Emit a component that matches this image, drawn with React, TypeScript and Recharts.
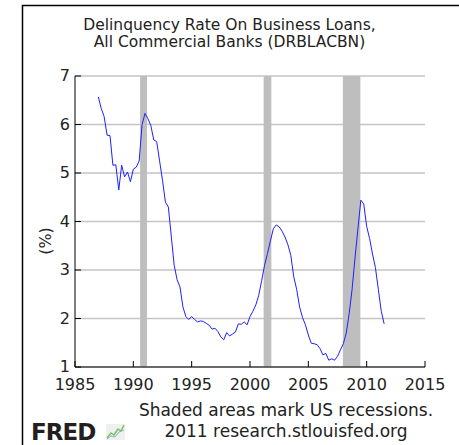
import React from "react";
import {
  LineChart,
  Line,
  XAxis,
  YAxis,
  CartesianGrid,
  ReferenceArea,
} from "recharts";

// quarterly delinquency rate (%), first quarter of 1987 onward
const START_YEAR = 1987;
const rates = [
  6.57, 6.33, 6.16, 5.78,
  5.77, 5.16, 5.17, 4.65,
  5.16, 4.92, 5.02, 4.82,
  5.08, 5.12, 5.25, 6.0,
  6.23, 6.12, 5.98, 5.68,
  5.65, 5.25, 4.85, 4.4,
  4.3, 3.7, 3.1, 2.8,
  2.65, 2.24, 2.04, 1.98,
  2.04, 1.98, 1.93, 1.95,
  1.94, 1.9, 1.86, 1.78,
  1.8, 1.73, 1.62, 1.56,
  1.71, 1.64, 1.68, 1.72,
  1.89, 1.88, 1.93, 1.87,
  2.04, 2.15, 2.28, 2.48,
  2.78, 3.1, 3.34, 3.6,
  3.85, 3.93, 3.89, 3.8,
  3.68, 3.52, 3.3, 2.86,
  2.6, 2.24, 2.02, 1.87,
  1.66, 1.49, 1.48, 1.46,
  1.38, 1.25, 1.28, 1.14,
  1.17, 1.14, 1.22, 1.35,
  1.48, 1.7, 2.1, 2.6,
  3.25, 3.85, 4.44, 4.36,
  3.9, 3.65, 3.33, 3.05,
  2.6, 2.15, 1.89,
];

const recessionStarts = [1990.58, 2001.17, 2007.96];
const recessionEnds = [1991.17, 2001.83, 2009.46];

const xTicks = [1985, 1990, 1995, 2000, 2005, 2010, 2015];
const yTicks = [1, 2, 3, 4, 5, 6, 7];

const data = rates.map((v, i) => ({ t: START_YEAR + i / 4, rate: v }));

const FONT = "'DejaVu Sans', Verdana, sans-serif";
const INK = "#222";

const YTick = (props: any) => {
  const { x, y, payload } = props;
  return (
    <g>
      <line x1={x} x2={x + 6} y1={y} y2={y} stroke="#000" />
      <text x={x - 5} y={y} dy="0.33em" textAnchor="end" fontSize={16} fill={INK} fontFamily={FONT}>
        {payload.value}
      </text>
    </g>
  );
};

const XTick = (props: any) => {
  const { x, y, payload } = props;
  return (
    <g>
      <line x1={x} x2={x} y1={y - 6} y2={y} stroke="#000" />
      <text x={x} y={y + 23} textAnchor="middle" fontSize={16} fill={INK} fontFamily={FONT}>
        {payload.value}
      </text>
    </g>
  );
};

export default function App() {
  return (
    <div style={{ position: "absolute", left: 0, top: 0, width: 459, height: 445, background: "#fff" }}>
      <LineChart
        width={459}
        height={445}
        data={data}
        margin={{ top: 76, right: 34, bottom: 48, left: 35 }}
      >
        <CartesianGrid vertical={false} stroke="#c4c4c4" strokeWidth={1.5} />
        {recessionStarts.map((s, i) => (
          <ReferenceArea
            key={s}
            x1={s}
            x2={recessionEnds[i]}
            fill="#bebebe"
            fillOpacity={1}
            stroke="none"
          />
        ))}
        <XAxis
          dataKey="t"
          type="number"
          domain={[1985, 2015]}
          ticks={xTicks}
          height={30}
          tickSize={0}
          tickMargin={0}
          tick={<XTick />}
          axisLine={{ stroke: "#000" }}
          tickLine={false}
        />
        <YAxis
          type="number"
          domain={[1, 7]}
          ticks={yTicks}
          width={40}
          tickSize={0}
          tickMargin={0}
          tick={<YTick />}
          axisLine={{ stroke: "#000" }}
          tickLine={false}
        />
        <Line
          dataKey="rate"
          type="linear"
          stroke="#1f1fff"
          strokeWidth={1}
          dot={false}
          isAnimationActive={false}
        />
      </LineChart>
      <svg
        width={459}
        height={445}
        style={{ position: "absolute", left: 0, top: 0, pointerEvents: "none" }}
      >
        <path d="M22.5,445 V5.5 H459" fill="none" stroke="#000" strokeWidth={1.5} />
        <text x={229.5} y={29.5} textAnchor="middle" fontSize={15.5} fill={INK} fontFamily={FONT}>
          Delinquency Rate On Business Loans,
        </text>
        <text x={229.5} y={46.5} textAnchor="middle" fontSize={15.5} fill={INK} fontFamily={FONT}>
          All Commercial Banks (DRBLACBN)
        </text>
        <text
          x={51}
          y={241}
          transform="rotate(-90 51 241)"
          textAnchor="middle"
          fontSize={16}
          fill={INK}
          fontFamily={FONT}
        >
          (%)
        </text>
        <text x={286} y={416} textAnchor="middle" fontSize={17} fill={INK} fontFamily={FONT}>
          Shaded areas mark US recessions.
        </text>
        <text x={286} y={436.5} textAnchor="middle" fontSize={17} fill={INK} fontFamily={FONT}>
          2011 research.stlouisfed.org
        </text>
        <text x={31} y={440} fontSize={23} fontWeight="bold" fill="#231f20" fontFamily={FONT} letterSpacing={-1}>
          FRED
        </text>
        <rect x={106} y={424} width={19} height={16} fill="#eef2ee" />
        <polyline points="107,438 111,433 114,435 118,429 121,431 124,425" fill="none" stroke="#7fbf5f" strokeWidth={1.5} />
        <polyline points="107,439 111,436 115,437 119,432 124,430" fill="none" stroke="#8fa8d8" strokeWidth={1} />
      </svg>
    </div>
  );
}
